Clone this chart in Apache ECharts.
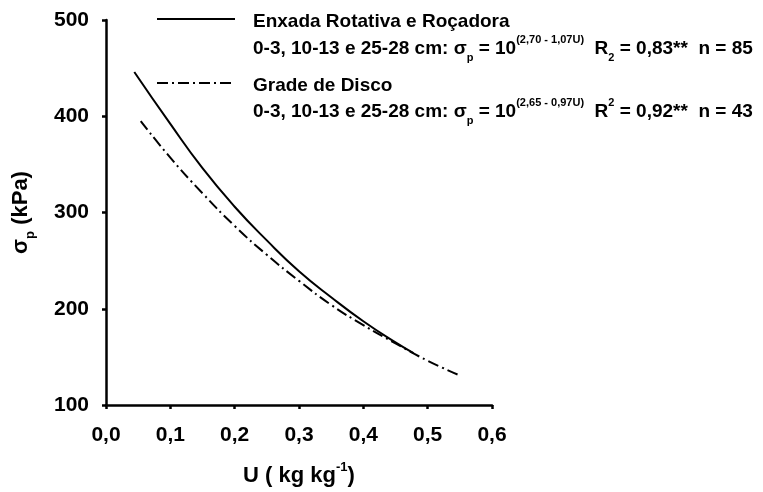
<!DOCTYPE html>
<html>
<head>
<meta charset="utf-8">
<style>
  html, body { margin: 0; padding: 0; background: #fff; }
  #chart { width: 763px; height: 492px; }
</style>
<script src="https://cdn.jsdelivr.net/npm/echarts@6/dist/echarts.min.js"></script>
</head>
<body>
<div id="chart"></div>
<script>
// Preconsolidation pressure (kPa) versus soil water content U (kg/kg)
const enxadaU = [0.044, 0.10, 0.15, 0.20, 0.25, 0.30, 0.35, 0.40, 0.45, 0.478];
const enxadaSigma = [446, 392, 346, 306, 271, 239, 212, 187, 165, 154];

const gradeU = [0.054, 0.10, 0.15, 0.20, 0.25, 0.30, 0.35, 0.40, 0.45, 0.50, 0.549];
const gradeSigma = [395, 357, 320, 286, 256, 229, 204, 183, 164, 146, 131];

const xTicks = [0.0, 0.1, 0.2, 0.3, 0.4, 0.5, 0.6];
const yTicks = [100, 200, 300, 400, 500];

const seriesNames = ['Enxada Rotativa e Roçadora', 'Grade de Disco'];

const FONT = '"Liberation Sans", Arial, sans-serif';
const pair = (xs, ys) => xs.map((x, i) => [x, ys[i]]);

const chart = echarts.init(document.getElementById('chart'), null, { renderer: 'canvas' });

const legendRich = {
  t: { fontSize: 19, fontWeight: 'bold', fontFamily: FONT, color: '#000', lineHeight: 24, verticalAlign: 'bottom' },
  sub: { fontSize: 11, fontWeight: 'bold', fontFamily: FONT, color: '#000', lineHeight: 24, verticalAlign: 'bottom', padding: [0, 0, -5, 0] },
  sup: { fontSize: 11, fontWeight: 'bold', fontFamily: FONT, color: '#000', lineHeight: 24, verticalAlign: 'top' }
};

function legendText(x, y, text) {
  return {
    type: 'text', x: x, y: y,
    style: {
      text: text, rich: legendRich, verticalAlign: 'middle', align: 'left',
      fontSize: 19, fontWeight: 'bold', fontFamily: FONT, fill: '#000'
    }
  };
}

const option = {
  backgroundColor: '#fff',
  animation: false,
  grid: { left: 106, right: 271, top: 20, bottom: 87, containLabel: false, outerBoundsMode: 'none' },
  xAxis: {
    type: 'value', min: 0, max: 0.6, interval: 0.1,
    name: '{t|U ( kg kg}{sup|-1}{t|)}', nameLocation: 'middle', nameGap: 56,
    nameTextStyle: {
      fontSize: 22, fontWeight: 'bold', fontFamily: FONT, color: '#000', lineHeight: 26,
      rich: {
        t: { fontSize: 22, fontWeight: 'bold', fontFamily: FONT, color: '#000', verticalAlign: 'bottom', lineHeight: 26 },
        sup: { fontSize: 13, fontWeight: 'bold', fontFamily: FONT, color: '#000', verticalAlign: 'top', lineHeight: 26 }
      }
    },
    axisLine: { show: true, lineStyle: { color: '#000', width: 2.5 } },
    axisTick: { show: true, inside: false, length: 4, lineStyle: { color: '#000', width: 2.5 } },
    axisLabel: {
      fontSize: 21, fontWeight: 'bold', fontFamily: FONT, color: '#000', margin: 20,
      formatter: v => xTicks.find(t => Math.abs(t - v) < 1e-9).toFixed(1).replace('.', ',')
    },
    splitLine: { show: false }
  },
  yAxis: {
    type: 'value', min: 100, max: 500, interval: 100,
    name: '{t|σ}{sub|p}{t| (kPa)}', nameLocation: 'middle', nameGap: 74, nameRotate: 90,
    nameTextStyle: {
      fontSize: 22, fontWeight: 'bold', fontFamily: FONT, color: '#000', lineHeight: 26,
      rich: {
        t: { fontSize: 22, fontWeight: 'bold', fontFamily: FONT, color: '#000', verticalAlign: 'bottom', lineHeight: 26 },
        sub: { fontSize: 13, fontWeight: 'bold', fontFamily: FONT, color: '#000', verticalAlign: 'bottom', lineHeight: 26, padding: [0, 0, -5, 0] }
      }
    },
    axisLine: { show: true, lineStyle: { color: '#000', width: 2.5 } },
    axisTick: { show: true, inside: false, length: 4, lineStyle: { color: '#000', width: 2.5 } },
    axisLabel: {
      fontSize: 21, fontWeight: 'bold', fontFamily: FONT, color: '#000', margin: 17,
      formatter: v => String(yTicks.find(t => t === v))
    },
    splitLine: { show: false }
  },
  series: [
    {
      name: seriesNames[0], type: 'line', data: pair(enxadaU, enxadaSigma),
      smooth: true, showSymbol: false, symbol: 'none',
      lineStyle: { color: '#000', width: 2, type: 'solid' }
    },
    {
      name: seriesNames[1], type: 'line', data: pair(gradeU, gradeSigma),
      smooth: true, showSymbol: false, symbol: 'none',
      lineStyle: { color: '#000', width: 2, type: [11, 4, 2, 4] }
    }
  ],
  graphic: [
    { type: 'line', shape: { x1: 157, y1: 19, x2: 235, y2: 19 }, style: { stroke: '#000', lineWidth: 2 } },
    { type: 'line', shape: { x1: 157, y1: 83, x2: 235, y2: 83 }, style: { stroke: '#000', lineWidth: 2, lineDash: [11, 4, 2, 4] } },
    legendText(253, 19, '{t|' + seriesNames[0] + '}'),
    legendText(253, 46, '{t|0-3, 10-13 e 25-28 cm: σ}{sub|p}{t| = 10}{sup|(2,70 - 1,07U)}{t|  R}{sub|2}{t| = 0,83**  n = 85}'),
    legendText(253, 83, '{t|' + seriesNames[1] + '}'),
    legendText(253, 109, '{t|0-3, 10-13 e 25-28 cm: σ}{sub|p}{t| = 10}{sup|(2,65 - 0,97U)}{t|  R}{sup|2}{t| = 0,92**  n = 43}')
  ]
};

chart.setOption(option);
</script>
</body>
</html>
